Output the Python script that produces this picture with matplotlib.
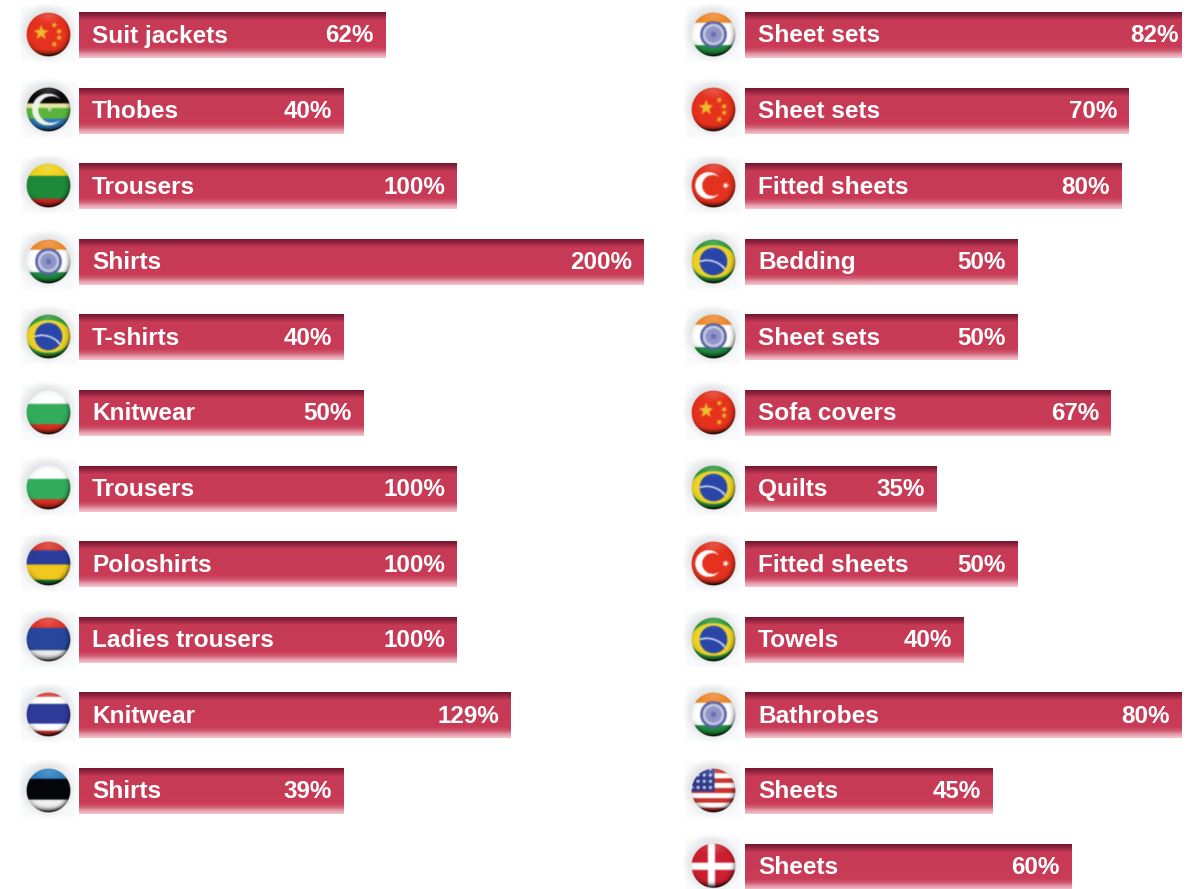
import matplotlib
matplotlib.use("Agg")
import matplotlib.pyplot as plt
import numpy as np
from matplotlib.colors import LinearSegmentedColormap
from matplotlib.path import Path

# left column
left_labels = ["Suit jackets", "Thobes", "Trousers", "Shirts", "T-shirts", "Knitwear",
               "Trousers", "Poloshirts", "Ladies trousers", "Knitwear", "Shirts"]
left_values = [62, 40, 100, 200, 40, 50, 100, 100, 100, 129, 39]
left_lengths = [307, 265, 378, 565, 265, 285, 378, 378, 378, 432, 265]
left_flags = ["china", "comoros", "lithuania", "india", "brazil", "bulgaria",
              "bulgaria", "armenia", "serbia", "thailand", "estonia"]
left_pads = [12] * 11

# right column
right_labels = ["Sheet sets", "Sheet sets", "Fitted sheets", "Bedding", "Sheet sets", "Sofa covers",
                "Quilts", "Fitted sheets", "Towels", "Bathrobes", "Sheets", "Sheets"]
right_values = [82, 70, 80, 50, 50, 67, 35, 50, 40, 80, 45, 60]
right_lengths = [437, 384, 377, 273, 273, 366, 192, 273, 219, 437, 248, 327]
right_flags = ["india", "china", "turkey", "brazil", "india", "china",
               "brazil", "turkey", "brazil", "india", "usa", "denmark"]
# the top bar is cut at the page edge, its label sits closer to the end
right_pads = [3] + [12] * 11

stripes = {
    "lithuania": [(0.28, "#f2d21e"), (0.80, "#1f8a3a"), (1.0, "#c8281f")],
    "bulgaria": [(0.30, "#ffffff"), (0.76, "#33ad5c"), (1.0, "#d83020")],
    "armenia": [(0.20, "#dc352a"), (0.52, "#2b3d9c"), (0.86, "#f2c81e"), (1.0, "#1c8035")],
    "serbia": [(0.24, "#e4332a"), (0.74, "#27479c"), (1.0, "#e8e8e8")],
    "thailand": [(0.10, "#dc352a"), (0.26, "#ffffff"), (0.70, "#2f3b9a"), (0.86, "#ffffff"), (1.0, "#dc352a")],
    "estonia": [(0.24, "#2f7fc4"), (0.70, "#05060a"), (1.0, "#f0f0f0")],
    "india": [(0.24, "#f08a2c"), (0.74, "#ffffff"), (1.0, "#1f8a3f")],
    "comoros": [(0.36, "#0a0a0c"), (0.70, "#5ab43c"), (1.0, "#2f78b8")],
}


def star_mask(u, v, cx, cy, r, rot=0.0):
    ang = np.deg2rad(-90 + rot) + np.arange(10) * np.pi / 5
    rad = np.where(np.arange(10) % 2 == 0, r, r * 0.4)
    poly = Path(np.c_[cx + rad * np.cos(ang), cy + rad * np.sin(ang)])
    return poly.contains_points(np.c_[u.ravel(), v.ravel()]).reshape(u.shape)


def hex_rgb(c):
    return np.array(matplotlib.colors.to_rgb(c))


def soften(a, k=2):
    # the print is a bit blurry
    for _ in range(k):
        a = (a + np.roll(a, 1, 0) + np.roll(a, -1, 0) + np.roll(a, 1, 1) + np.roll(a, -1, 1)) / 5
    return a


def flag_image(name, n=120):
    # +-1 is the ball, the tile goes a little further
    span = 1.36
    t = np.linspace(-span, span, n)
    u, v = np.meshgrid(t, t)
    r = np.hypot(u, v)
    img = np.ones((n, n, 3))
    fv = (v + 1) / 2
    if name in stripes:
        prev = -1
        for end, col in stripes[name]:
            img[(fv > prev) & (fv <= end)] = hex_rgb(col)
            prev = end
        img[fv > 1] = hex_rgb(stripes[name][-1][1])
        img[fv <= 0] = hex_rgb(stripes[name][0][1])
    if name == "india":
        img[r < 0.60] = hex_rgb("#5560a4")
        img[r < 0.49] = hex_rgb("#c4c8e0")
        img[r < 0.36] = hex_rgb("#8f95c6")
        img[r < 0.12] = hex_rgb("#6a70b2")
    elif name == "china":
        img[:] = hex_rgb("#e6321e")
        yellow = hex_rgb("#eebc2c")
        img[star_mask(u, v, -0.33, -0.08, 0.36)] = yellow
        for cx, cy, rot in [(0.26, -0.42, 20), (0.48, -0.14, 40), (0.48, 0.14, 0), (0.26, 0.44, 20)]:
            img[star_mask(u, v, cx, cy, 0.15, rot)] = yellow
    elif name == "brazil":
        img[:] = hex_rgb("#2c9a3a")
        img[(u / 1.02) ** 2 + (v / 0.74) ** 2 < 1] = hex_rgb("#ecd22a")
        img[r < 0.62] = hex_rgb("#2a46a8")
        band = np.abs(np.hypot(u + 0.3, v - 1.0) - 1.05) < 0.035
        img[band & (r < 0.62)] = hex_rgb("#dfe6f0")
    elif name == "turkey":
        img[:] = hex_rgb("#e4321e")
        img[np.hypot(u + 0.22, v) < 0.60] = 1
        img[np.hypot(u + 0.04, v) < 0.47] = hex_rgb("#e4321e")
        img[star_mask(u, v, 0.55, 0, 0.17, 90)] = 1
    elif name == "denmark":
        img[:] = hex_rgb("#cc1f30")
        img[(np.abs(u + 0.1) < 0.16) | (np.abs(v - 0.02) < 0.16)] = 1
    elif name == "usa":
        img[:] = 1
        row = np.floor((v + 1) / 2 * 9).astype(int)
        img[row % 2 == 0] = hex_rgb("#c8352e")
        canton = (u < 0.05) & (v < 0.05)
        img[canton] = hex_rgb("#2e3a8c")
        dots = (np.mod(u * 3.6, 1) - 0.5) ** 2 + (np.mod(v * 3.6, 1) - 0.5) ** 2 < 0.07
        img[canton & dots] = hex_rgb("#c8cee8")
    elif name == "comoros":
        img[(fv > 0.36) & (fv < 0.46)] = hex_rgb("#e8e8a0")
        img[(np.hypot(u + 0.02, v) < 0.72) & (np.hypot(u - 0.14, v) > 0.60)] = hex_rgb("#eef2ea")
        img[star_mask(u, v, 0.05, 0.0, 0.12)] = hex_rgb("#c8e0d0")
    img = soften(img, 3)

    # ball shading, dark towards the low right edge only
    rim = np.clip((r - 0.68) / 0.32, 0, 1) ** 2
    dark = rim * np.clip(0.25 + 0.75 * (0.45 * u + 0.85 * v), 0.08, 1)
    low = np.clip((v - 0.62) / 0.38, 0, 1) ** 1.6
    shade = 1 - np.clip(0.8 * dark + 0.5 * low, 0, 0.88)
    img = img * shade[..., None]
    gloss = np.clip(1 - np.hypot(u, (v + 0.85) * 1.8) / 0.7, 0, 1) * 0.18
    img = img + (1 - img) * gloss[..., None]

    # tile and soft shadow behind the ball
    bg = np.ones((n, n, 3))
    tile = (np.abs(u) < 1.24) & (np.abs(v) < 1.24)
    bg[tile] = hex_rgb("#f9fafb")
    glow = np.clip(1 - np.hypot(u + 0.06, v + 0.12) / 1.36, 0, 1)
    bg = bg * (1 - 0.26 * glow[..., None])
    bg = soften(bg, 2)
    a = np.clip((1.0 - r) * n / (2 * span) * 0.7, 0, 1)[..., None]
    return img * a + bg * (1 - a)


bar_cmap = LinearSegmentedColormap.from_list(
    "bar", [(0, "#7a1730"), (0.05, "#87203a"), (0.17, "#c63a56"), (0.76, "#c93b57"),
            (0.85, "#d05c72"), (0.92, "#e596a6"), (1, "#f2c4cc")])
grad = np.linspace(0, 1, 92)[:, None]

fig = plt.figure(figsize=(11.98, 8.89), dpi=100)
ax = fig.add_axes([0, 0, 1, 1])

row_step = 75.6
bar_h = 46
for x0, cx, labels, values, lengths, flags, pads in [
    (79, 48, left_labels, left_values, left_lengths, left_flags, left_pads),
    (745, 713.5, right_labels, right_values, right_lengths, right_flags, right_pads),
]:
    tops = 12 + np.arange(len(labels)) * row_step
    bars = ax.barh(tops + bar_h / 2, lengths, left=x0, height=bar_h, color="#c93b57")
    for bar, top, lab, val, ln, fl, pad in zip(bars, tops, labels, values, lengths, flags, pads):
        im = ax.imshow(grad, cmap=bar_cmap, aspect="auto", extent=(x0, x0 + ln, top + bar_h, top),
                       interpolation="bilinear", zorder=2)
        im.set_clip_path(bar)
        ax.text(x0 + 13, top + 30.5, lab, color="white", fontsize=17.6, fontweight="bold",
                family="Liberation Sans", ha="left", va="baseline", zorder=3)
        ax.text(x0 + ln - pad, top + 30.5, f"{val}%", color="white", fontsize=17.4, fontweight="bold",
                family="Liberation Sans", ha="right", va="baseline", zorder=3)
        half = 22.3 * 1.36
        cy = top + 22.5
        ax.imshow(flag_image(fl), aspect="auto", extent=(cx - half, cx + half, cy + half, cy - half),
                  interpolation="bilinear", zorder=1)

ax.set_xlim(0, 1198)
ax.set_ylim(889, 0)
ax.axis("off")
fig.savefig("out.png", dpi=100, facecolor="white")
